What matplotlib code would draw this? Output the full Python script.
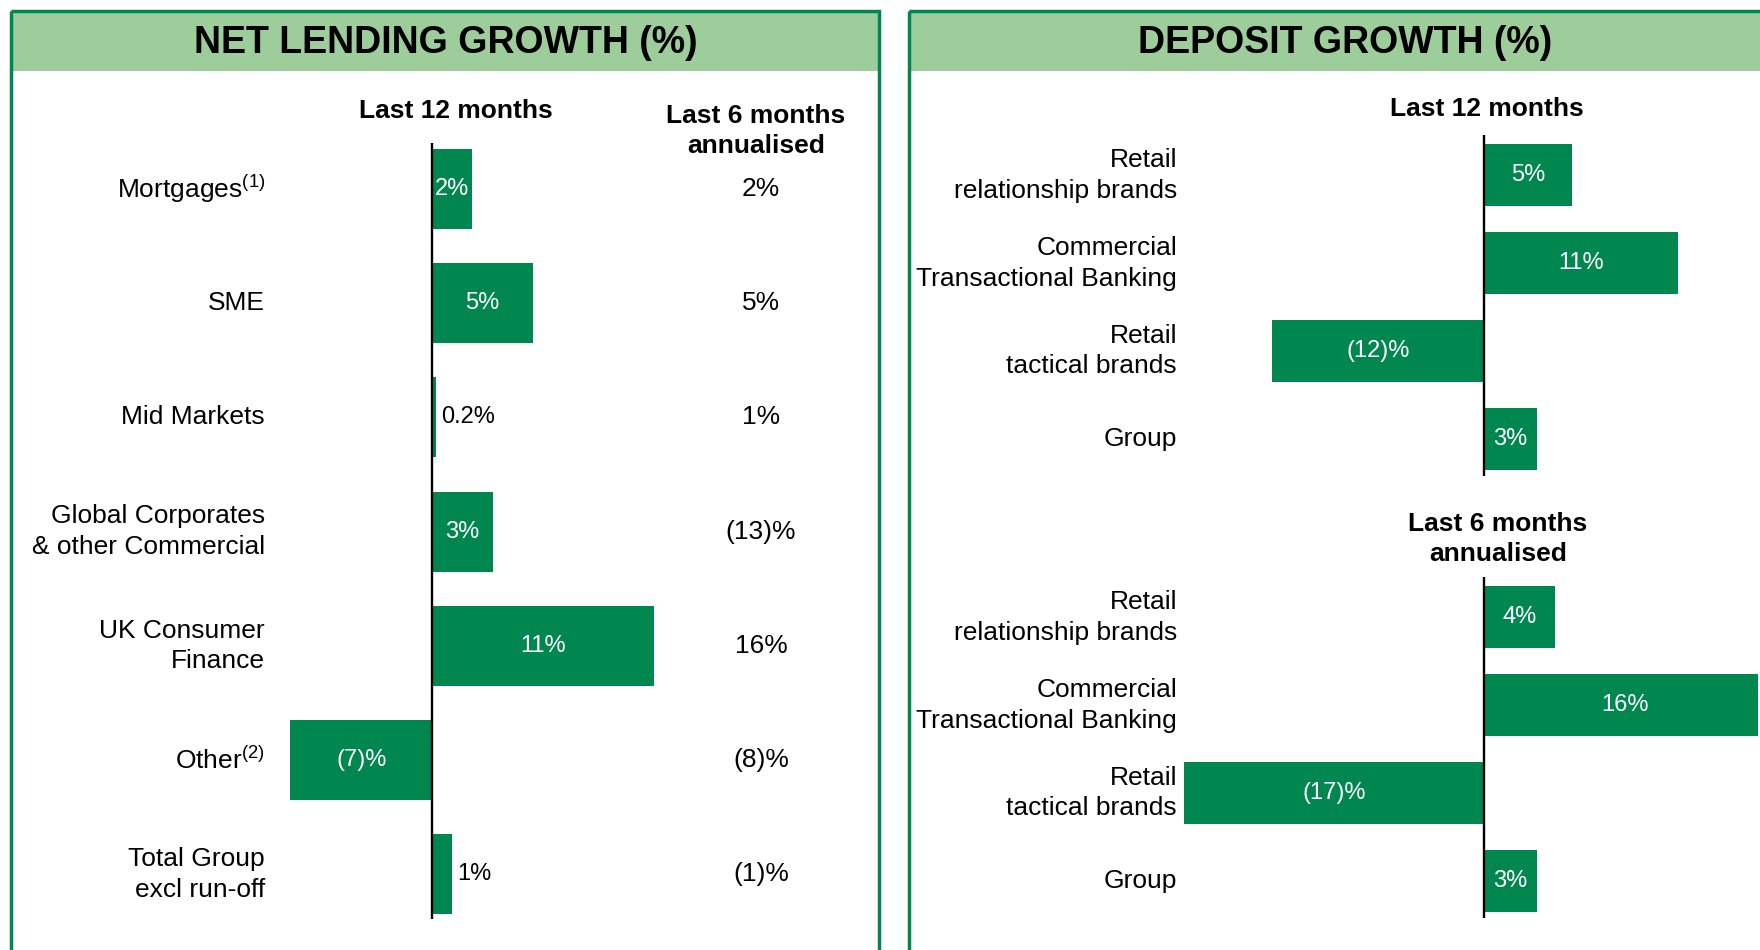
import matplotlib
matplotlib.use("Agg")
import matplotlib.pyplot as plt
from matplotlib.patches import Rectangle
from matplotlib.transforms import blended_transform_factory

# data
lend_cats = ["Mortgages$^{(1)}$", "SME", "Mid Markets",
             "Global Corporates\n& other Commercial", "UK Consumer\nFinance",
             "Other$^{(2)}$", "Total Group\nexcl run-off"]
lend_12m = [2, 5, 0.2, 3, 11, -7, 1]
lend_6m = [2, 5, 1, -13, 16, -8, -1]

dep_cats = ["Retail\nrelationship brands", "Commercial\nTransactional Banking",
            "Retail\ntactical brands", "Group"]
dep_12m = [5, 11, -12, 3]
dep_6m = [4, 16, -17, 3]

GREEN = "#00874F"
HEAD = "#9CCD9A"

plt.rcParams['font.family'] = ['Liberation Sans', 'DejaVu Sans']
plt.rcParams['mathtext.default'] = 'regular'

W, H = 1760, 950
fig = plt.figure(figsize=(17.6, 9.5), dpi=100)

# pixel-space background axes for the panels
bg = fig.add_axes([0, 0, 1, 1])
bg.set_xlim(0, W)
bg.set_ylim(H, 0)
bg.axis('off')


def pct(v):
    if v < 0:
        return "(%g)%%" % abs(v)
    return "%g%%" % v


def px_axes(x0, y0, x1, y1):
    return fig.add_axes([x0 / W, 1 - y1 / H, (x1 - x0) / W, (y1 - y0) / H])


def panel(x0, x1, title, tx):
    bg.add_patch(Rectangle((x0, 11), x1 - x0, 60, fc=HEAD, ec='none'))
    bg.add_patch(Rectangle((x0, 11), x1 - x0, 980, fc='none', ec=GREEN, lw=2.5))
    bg.text(tx, 43, title, ha='center', va='center', fontsize=27, fontweight='bold')


def bars(rect, cats, values, xlim, ylim, label_x):
    ax = px_axes(*rect)
    ax.patch.set_alpha(0)
    y = list(range(len(values)))
    ax.barh(y, values, height=0.7, color=GREEN)
    ax.axvline(0, color='black', lw=1.7)
    ax.set_xlim(xlim)
    ax.set_ylim(ylim)
    ax.axis('off')
    for i, v in enumerate(values):
        if abs(v) >= 1.5:
            ax.text(v / 2, i, pct(v), ha='center', va='center', color='white', fontsize=17)
        else:
            ax.annotate(pct(v), (v, i), xytext=(3.5, 0), textcoords='offset points',
                        ha='left', va='center', fontsize=17)
    tr = blended_transform_factory(bg.transData, ax.transData)
    for i, c in enumerate(cats):
        ax.text(label_x, i, c, transform=tr, ha='right', va='center', fontsize=19,
                linespacing=1.35)
    return ax, tr


panel(11, 879, "NET LENDING GROWTH (%)", 446)
panel(909, 1800, "DEPOSIT GROWTH (%)", 1345)

# net lending
ax1, tr1 = bars((250, 143, 715, 919), lend_cats, lend_12m, (-9, 14), (6.39, -0.40), 265)
for i, v in enumerate(lend_6m):
    ax1.text(761, i, pct(v), transform=tr1, ha='center', va='center', fontsize=19)
bg.text(456, 111, "Last 12 months", ha='center', va='center', fontsize=19, fontweight='bold')
bg.text(756, 131, "Last 6 months\nannualised", ha='center', va='center', fontsize=19,
        fontweight='bold', linespacing=1.35)

# deposits
bars((1166, 135, 1758, 476), dep_cats, dep_12m, (-18, 15.5), (3.42, -0.458), 1177)
bars((1166, 577, 1758, 918), dep_cats, dep_6m, (-18, 15.5), (3.42, -0.458), 1177)
bg.text(1487, 109, "Last 12 months", ha='center', va='center', fontsize=19, fontweight='bold')
bg.text(1498, 539, "Last 6 months\nannualised", ha='center', va='center', fontsize=19,
        fontweight='bold', linespacing=1.35)

fig.savefig("out.png", dpi=100)
